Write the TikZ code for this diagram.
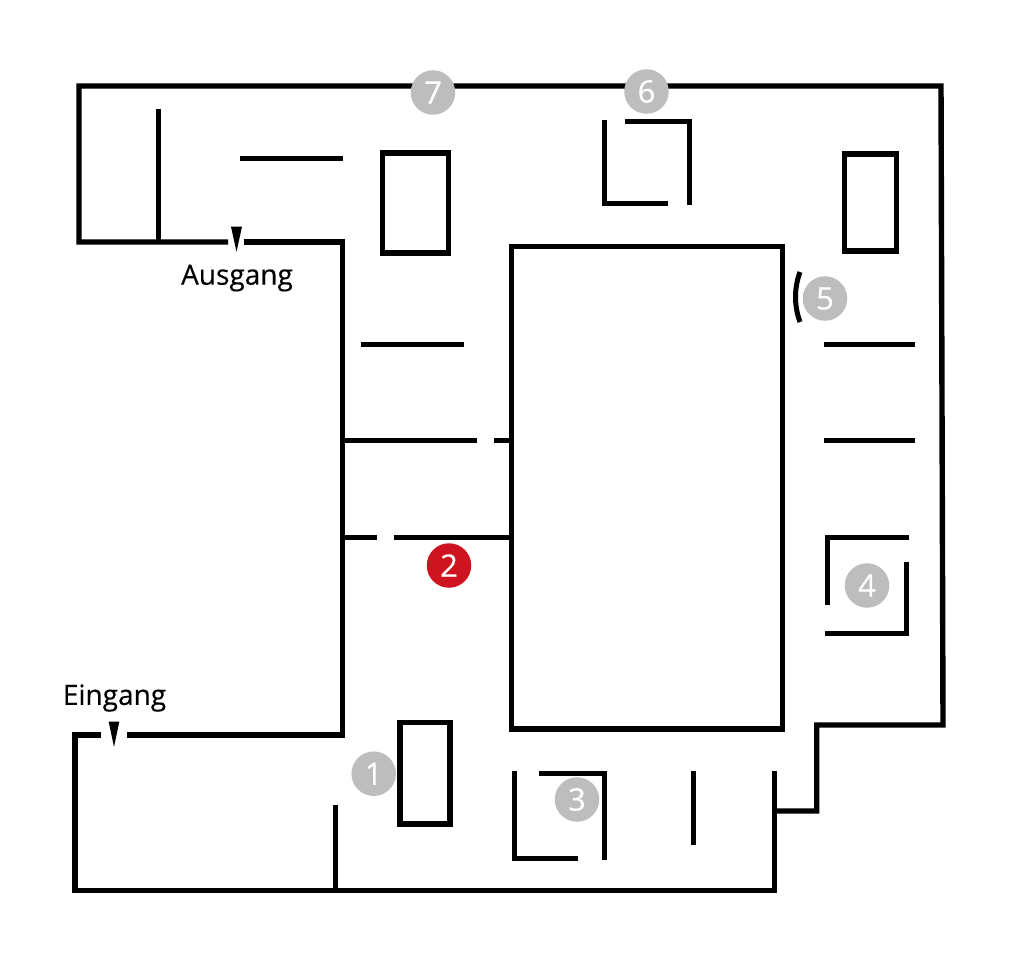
\documentclass[tikz,border=0pt]{standalone}
\usepackage{fontspec}
\setmainfont{Open Sans}
\newfontfamily\planfont{Open Sans}[FakeBold=0.35]
\definecolor{markgrey}{HTML}{BDBDBD}
\definecolor{markred}{HTML}{CE1420}
\tikzset{
  wall/.style={draw=black,line width=5.4pt,line join=miter},
  thinwall/.style={draw=black,line width=5pt,line join=miter},
  marker/.style={circle,fill=#1,minimum size=44.5pt,inner sep=0pt,text=white,font=\planfont\fontsize{31}{31}\selectfont},
  label/.style={text=black,inner sep=0pt,font=\planfont\fontsize{28}{28}\selectfont},
  pointer/.style={fill=black,draw=none}
}
\begin{document}
\begin{tikzpicture}[x=1pt,y=-1pt]
\useasboundingbox (0,0) rectangle (1024,971);
\fill[white] (0,0) rectangle (1024,971);
% outer walls
\draw[wall] (228,242) -- (79,242) -- (79,86) -- (941,86) -- (943,725) -- (816.7,725) -- (816.7,811) -- (774.5,811);
\draw[wall] (244,242) -- (342.5,242) -- (342.5,735) -- (127,735);
\draw[wall] (101,735) -- (75,735) -- (75,890.5) -- (774.5,890.5) -- (774.5,771);
% rooms and blocks
\draw[wall] (382.5,153) rectangle (448.7,253);
\draw[wall] (844.3,154) rectangle (896.7,251);
\draw[wall] (511.7,246.3) rectangle (782.7,729);
\draw[wall] (399.8,722.5) rectangle (450,824);
% inner walls
\draw[thinwall] (158,109) -- (158,242);
\draw[thinwall] (240,158) -- (343,158);
\draw[thinwall] (361,344) -- (464,344);
\draw[thinwall] (343,440) -- (477,440);
\draw[thinwall] (494,440) -- (512,440);
\draw[thinwall] (343,537) -- (377,537);
\draw[thinwall] (394,537) -- (512,537);
\draw[thinwall] (824,344) -- (915,344);
\draw[thinwall] (824,440) -- (915,440);
\draw[thinwall] (335.9,805) -- (335.9,890);
\draw[thinwall] (693,771) -- (693,845);
% room 6
\draw[thinwall] (668,203) -- (604,203) -- (604,120);
\draw[thinwall] (625,121) -- (689,121) -- (689,205);
% room 4
\draw[thinwall] (827,605) -- (827,537) -- (909,537);
\draw[thinwall] (906,562) -- (906,633) -- (825,633);
% room 3
\draw[thinwall] (514,771) -- (514,858) -- (578,858);
\draw[thinwall] (539,773) -- (604,773) -- (604,860);
% curved item at 5
\draw[thinwall] (800,272) .. controls (794,288) and (794,306) .. (800,322);
% pointers
\fill[pointer] (231,226.7) -- (242,226.7) -- (236.5,251.7) -- cycle;
\fill[pointer] (108.7,721.7) -- (119.3,721.7) -- (114,747) -- cycle;
% labels
\node[label] (ausgang) at (237,278) {Ausgang};
\node[label] (eingang) at (114.5,698) {Eingang};
% markers
\node[marker=markgrey] (m1) at (373.7,773.7) {1};
\node[marker=markred] (m2) at (449,565.5) {2};
\node[marker=markgrey] (m3) at (577,799.5) {3};
\node[marker=markgrey] (m4) at (867,585.5) {4};
\node[marker=markgrey] (m5) at (825,298.5) {5};
\node[marker=markgrey] (m6) at (646.5,91.5) {6};
\node[marker=markgrey] (m7) at (433,92.5) {7};
\end{tikzpicture}
\end{document}
